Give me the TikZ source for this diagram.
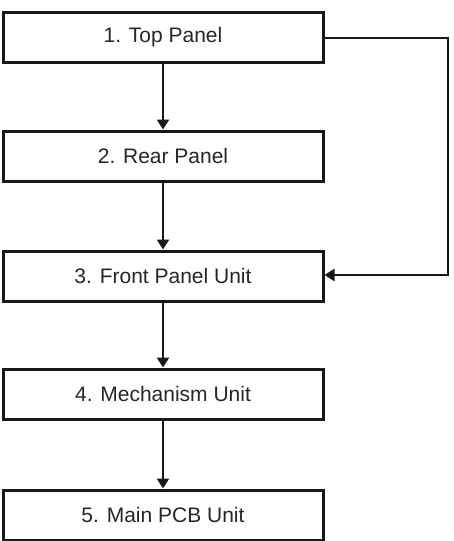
\documentclass[tikz,border=0pt]{standalone}
\usepackage{fontspec}
\setmainfont{Liberation Sans}
\usetikzlibrary{arrows.meta}
\begin{document}
\begin{tikzpicture}[x=1pt,y=-1pt,
  stepbox/.style={draw=black!90, line width=3pt, minimum width=320pt, minimum height=50pt,
    inner sep=0pt, font=\fontsize{21}{24}\selectfont, text=black!85},
  conn/.style={draw=black!90, line width=2.8pt, -{Triangle[width=12pt,length=10pt]}}]
\useasboundingbox (0,0) rectangle (453,541);
\node[stepbox] (b1) at (163,37) {1. Top Panel};
\node[stepbox] (b2) at (163,156) {2. Rear Panel};
\node[stepbox] (b3) at (163,276) {3. Front Panel Unit};
\node[stepbox] (b4) at (163,394) {4. Mechanism Unit};
\node[stepbox] (b5) at (163,515) {5. Main PCB Unit};
\draw[conn] (b1) -- (b2);
\draw[conn] (b2) -- (b3);
\draw[conn] (b3) -- (b4);
\draw[conn] (b4) -- (b5);
\coordinate (r1) at (448,38);
\coordinate (r2) at (448,275);
\draw[conn] (b1.east |- r1) -- (r1) -- (r2) -- (b3.east |- r2);
\end{tikzpicture}
\end{document}
